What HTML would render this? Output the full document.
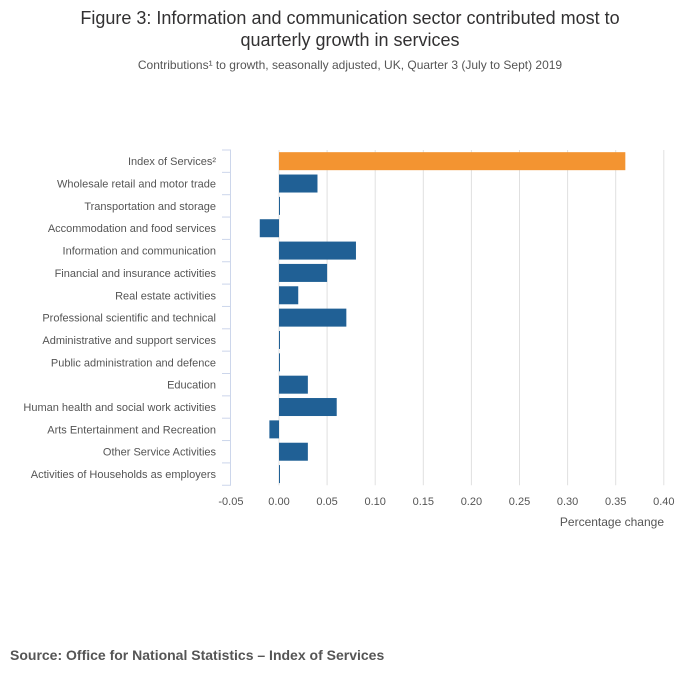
<!DOCTYPE html>
<html><head><meta charset="utf-8"><style>
body{margin:0;background:#fff;font-family:"Liberation Sans",sans-serif;}
svg text{font-family:"Liberation Sans",sans-serif;}
</style></head><body>
<svg width="700" height="682">
<text x="350" y="24" text-anchor="middle" font-size="18" fill="#323132">Figure 3: Information and communication sector contributed most to</text>
<text x="350" y="46" text-anchor="middle" font-size="18" fill="#323132">quarterly growth in services</text>
<text x="350" y="69" text-anchor="middle" font-size="12" fill="#555">Contributions¹ to growth, seasonally adjusted, UK, Quarter 3 (July to Sept) 2019</text>
<g id="plot"></g>
<text x="664" y="526" text-anchor="end" font-size="12" fill="#555">Percentage change</text>
<text x="10" y="660" font-size="14" font-weight="bold" fill="#555">Source: Office for National Statistics – Index of Services</text>
</svg>
<script>
const categories=["Index of Services²","Wholesale retail and motor trade","Transportation and storage","Accommodation and food services","Information and communication","Financial and insurance activities","Real estate activities","Professional scientific and technical","Administrative and support services","Public administration and defence","Education","Human health and social work activities","Arts Entertainment and Recreation","Other Service Activities","Activities of Households as employers"];
const values=[0.36,0.04,0.001,-0.02,0.08,0.05,0.02,0.07,0.001,0.001,0.03,0.06,-0.01,0.03,0.001];
const ticks=[-0.05,0,0.05,0.10,0.15,0.20,0.25,0.30,0.35,0.40];
const tickLabels=["-0.05","0.00","0.05","0.10","0.15","0.20","0.25","0.30","0.35","0.40"];
const NS="http://www.w3.org/2000/svg";
const g=document.getElementById('plot');
const x=v=>279+(v/0.05)*48.1;
const plotTop=150,step=22.35;
function mk(t,a){const e=document.createElementNS(NS,t);for(const k in a)e.setAttribute(k,a[k]);g.appendChild(e);return e;}
ticks.forEach((t,i)=>{
  if(i>0){const l=mk('line',{x1:x(t),x2:x(t),y1:plotTop,y2:plotTop+step*15,stroke:'#e0e0e0','stroke-width':1});
  
  }
  const tx=mk('text',{x:x(t),y:505,'text-anchor':'middle','font-size':11,fill:'#555'});
  tx.textContent=tickLabels[i];
  
  
});
const ax=mk('line',{x1:230.5,x2:230.5,y1:plotTop,y2:plotTop+step*15,stroke:'#ccd6eb','stroke-width':1});


for(let i=0;i<=15;i++){const t=mk('line',{x1:222,x2:231,y1:plotTop+i*step,y2:plotTop+i*step,stroke:'#ccd6eb','stroke-width':1});

}
categories.forEach((c,i)=>{
  const cy=plotTop+step*(i+0.5);
  const lb=mk('text',{x:216,y:cy+4,'text-anchor':'end','font-size':11,fill:'#555'});
  lb.textContent=c;
  
  
  const v=values[i];
  const x0=Math.min(x(0),x(v)),w=Math.max(1,Math.abs(x(v)-x(0)));
  const r=mk('rect',{x:x0,y:cy-9,width:w,height:18,fill:i===0?'#f39431':'#206095'});
  
  
});
</script>
</body></html>
